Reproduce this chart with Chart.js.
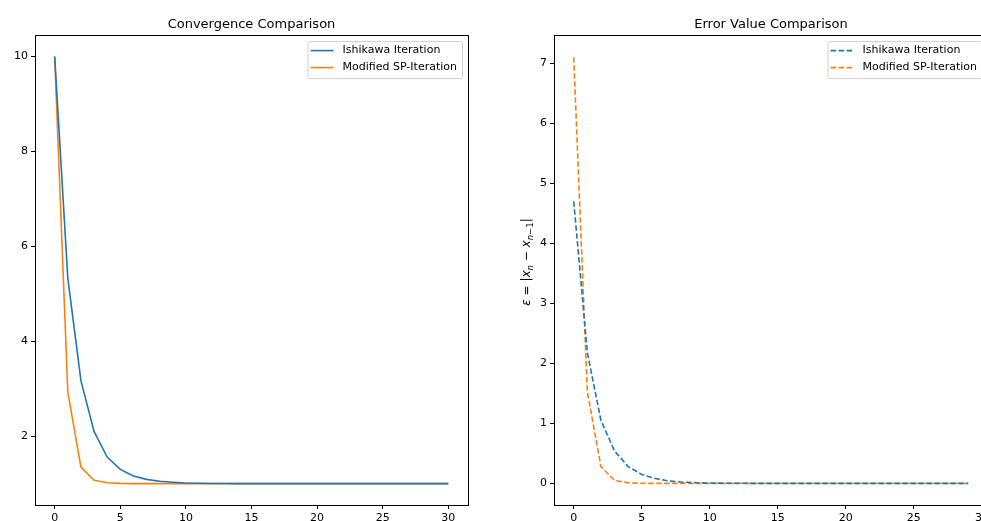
<!DOCTYPE html>
<html>
<head>
<meta charset="utf-8">
<script src="https://cdn.jsdelivr.net/npm/chart.js@4"></script>
<style>
  html, body { margin: 0; padding: 0; background: #fff; overflow: hidden; width: 981px; height: 521px; }
  #left { position: absolute; left: 0; top: 0; width: 490px; height: 535px; }
  #right { position: absolute; left: 490px; top: 0; width: 510px; height: 535px; }
</style>
</head>
<body>
<div id="left"><canvas id="c1"></canvas></div>
<div id="right"><canvas id="c2"></canvas></div>
<script>
// iterations
const iterLeft = [0,1,2,3,4,5,6,7,8,9,10,11,12,13,14,15,16,17,18,19,20,21,22,23,24,25,26,27,28,29,30];
const iterRight = [0,1,2,3,4,5,6,7,8,9,10,11,12,13,14,15,16,17,18,19,20,21,22,23,24,25,26,27,28,29];

// convergence values x_n
const ishikawaX = [10, 5.33, 3.17, 2.1, 1.56, 1.3, 1.16, 1.09, 1.05, 1.03, 1.015, 1.008, 1.004, 1.002, 1, 1, 1, 1, 1, 1, 1, 1, 1, 1, 1, 1, 1, 1, 1, 1, 1];
const modSpX = [10, 2.93, 1.35, 1.07, 1.02, 1.005, 1, 1, 1, 1, 1, 1, 1, 1, 1, 1, 1, 1, 1, 1, 1, 1, 1, 1, 1, 1, 1, 1, 1, 1, 1];

// error values |x_n - x_{n-1}|
const ishikawaErr = [4.7, 2.18, 1.05, 0.54, 0.28, 0.15, 0.08, 0.04, 0.02, 0.012, 0.006, 0.003, 0.002, 0.001, 0, 0, 0, 0, 0, 0, 0, 0, 0, 0, 0, 0, 0, 0, 0, 0];
const modSpErr = [7.1, 1.53, 0.28, 0.05, 0.01, 0.002, 0, 0, 0, 0, 0, 0, 0, 0, 0, 0, 0, 0, 0, 0, 0, 0, 0, 0, 0, 0, 0, 0, 0, 0];

const seriesNames = ['Ishikawa Iteration', 'Modified SP-Iteration'];
const xTicksLeft = [0, 5, 10, 15, 20, 25, 30];
const xTicksRight = [0, 5, 10, 15, 20, 25, 30];
const yTicksLeft = [2, 4, 6, 8, 10];
const yTicksRight = [0, 1, 2, 3, 4, 5, 6, 7];

const BLUE = '#1f77b4', ORANGE = '#ff7f0e';
const FONT = 'DejaVu Sans';

function pts(xs, ys) { return xs.map((x, i) => ({ x: x, y: ys[i] })); }

// draw the top/right spines like matplotlib
const frame = {
  id: 'frame',
  afterDraw(chart) {
    const a = chart.chartArea, ctx = chart.ctx;
    ctx.save();
    ctx.strokeStyle = '#000';
    ctx.lineWidth = 1;
    ctx.strokeRect(Math.round(a.left) + 0.5, Math.round(a.top) + 0.5, Math.round(a.right - a.left), Math.round(a.bottom - a.top));
    ctx.restore();
  }
};

// legend box inside the upper right corner
const boxLegend = {
  id: 'boxLegend',
  afterDraw(chart) {
    const a = chart.chartArea, ctx = chart.ctx;
    ctx.save();
    ctx.font = '11px "' + FONT + '"';
    let tw = 0;
    chart.data.datasets.forEach(d => { tw = Math.max(tw, ctx.measureText(d.label).width); });
    const w = 35 + tw + 5, h = 37;
    const x = a.right - 6 - w, y = a.top + 6;
    ctx.fillStyle = 'rgba(255,255,255,0.8)';
    ctx.strokeStyle = '#d0d0d0';
    ctx.lineWidth = 1;
    ctx.beginPath();
    ctx.roundRect(x + 0.5, y + 0.5, w, h, 2);
    ctx.fill();
    ctx.stroke();
    chart.data.datasets.forEach((d, i) => {
      const ly = y + 9.5 + i * 17;
      ctx.strokeStyle = d.borderColor;
      ctx.lineWidth = 1.6;
      ctx.setLineDash(d.borderDash || []);
      ctx.beginPath();
      ctx.moveTo(x + 3, ly);
      ctx.lineTo(x + 26, ly);
      ctx.stroke();
      ctx.setLineDash([]);
      ctx.fillStyle = '#000';
      ctx.textBaseline = 'middle';
      ctx.fillText(d.label, x + 35, ly);
    });
    ctx.restore();
  }
};

// y label with real subscripts: ε = |x_n − x_{n−1}|
const errLabel = {
  id: 'errLabel',
  afterDraw(chart) {
    const ctx = chart.ctx;
    const parts = [
      ['ε', 'italic', 12, 0], [' = ', 'normal', 12, 0], ['|', 'normal', 12, 0],
      ['x', 'italic', 12, 0], ['n', 'italic', 8.5, 3], [' − ', 'normal', 12, 0],
      ['x', 'italic', 12, 0], ['n', 'italic', 8.5, 3], ['−1', 'normal', 8.5, 3], ['|', 'normal', 12, 0]
    ];
    ctx.save();
    let total = 0;
    parts.forEach(p => { ctx.font = p[1] + ' ' + p[2] + 'px "' + FONT + '"'; total += ctx.measureText(p[0]).width; });
    const a = chart.chartArea;
    ctx.translate(36, (a.top + a.bottom) / 2 - 8);
    ctx.rotate(-Math.PI / 2);
    ctx.fillStyle = '#000';
    ctx.textBaseline = 'alphabetic';
    let cx = -total / 2;
    parts.forEach(p => {
      ctx.font = p[1] + ' ' + p[2] + 'px "' + FONT + '"';
      ctx.fillText(p[0], cx, 4 + p[3]);
      cx += ctx.measureText(p[0]).width;
    });
    ctx.restore();
  }
};

function axisOpts(tickList, min, max, fitW, fitH) {
  const o = {
    type: 'linear',
    min: min,
    max: max,
    afterBuildTicks: s => { s.ticks = tickList.map(v => ({ value: v })); },
    grid: { drawOnChartArea: false, color: '#000', tickLength: 4 },
    border: { display: true, color: '#000', width: 1 },
    ticks: { color: '#000', font: { family: FONT, size: 11 }, padding: 3, maxRotation: 0, autoSkip: false }
  };
  if (fitW) o.afterFit = s => { s.width = fitW; };
  if (fitH) o.afterFit = s => { s.height = fitH; };
  return o;
}

function titleOpts(text) {
  return {
    display: true,
    text: text,
    fullSize: false,
    color: '#000',
    font: { family: FONT, size: 13, weight: 'normal' },
    padding: { top: 16.5, bottom: 3 }
  };
}

new Chart(document.getElementById('c1').getContext('2d'), {
  type: 'line',
  data: {
    datasets: [
      { label: seriesNames[0], data: pts(iterLeft, ishikawaX), borderColor: BLUE, backgroundColor: BLUE, borderWidth: 1.6, pointRadius: 0, tension: 0 },
      { label: seriesNames[1], data: pts(iterLeft, modSpX), borderColor: ORANGE, backgroundColor: ORANGE, borderWidth: 1.6, pointRadius: 0, tension: 0 }
    ]
  },
  options: {
    responsive: true,
    maintainAspectRatio: false,
    animation: false,
    layout: { padding: { left: 0, right: 22, top: 0, bottom: 0 } },
    plugins: { legend: { display: false }, tooltip: { enabled: false }, title: titleOpts('Convergence Comparison') },
    scales: {
      x: axisOpts(xTicksLeft, -1.5, 31.5, null, 30),
      y: axisOpts(yTicksLeft, 0.55, 10.45, 35, null)
    }
  },
  plugins: [frame, boxLegend]
});

new Chart(document.getElementById('c2').getContext('2d'), {
  type: 'line',
  data: {
    datasets: [
      { label: seriesNames[0], data: pts(iterRight, ishikawaErr), borderColor: BLUE, backgroundColor: BLUE, borderWidth: 1.6, borderDash: [5.5, 2.5], pointRadius: 0, tension: 0 },
      { label: seriesNames[1], data: pts(iterRight, modSpErr), borderColor: ORANGE, backgroundColor: ORANGE, borderWidth: 1.6, borderDash: [5.5, 2.5], pointRadius: 0, tension: 0 }
    ]
  },
  options: {
    responsive: true,
    maintainAspectRatio: false,
    animation: false,
    layout: { padding: { left: 0, right: 12, top: 0, bottom: 0 } },
    plugins: { legend: { display: false }, tooltip: { enabled: false }, title: titleOpts('Error Value Comparison') },
    scales: {
      x: axisOpts(xTicksRight, -1.45, 30.45, null, 30),
      y: axisOpts(yTicksRight, -0.36, 7.47, 64, null)
    }
  },
  plugins: [frame, boxLegend, errLabel]
});
</script>
</body>
</html>
